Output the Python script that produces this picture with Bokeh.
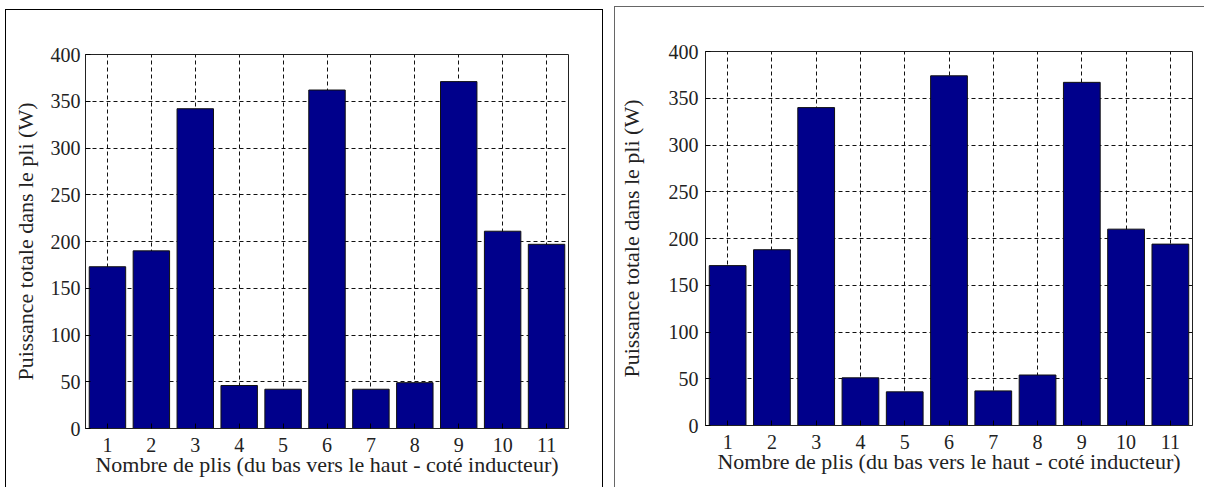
from bokeh.plotting import figure
from bokeh.layouts import row
from bokeh.models import Range1d
from bokeh.embed import file_html
from bokeh.resources import INLINE

plis = list(range(1, 12))
puissance_gauche = [173, 190, 342, 46, 42, 362, 42, 49, 371, 211, 197]
puissance_droite = [171, 188, 340, 51, 36, 374, 37, 54, 367, 210, 194]
y_ticks = list(range(0, 401, 50))
x_label = "Nombre de plis (du bas vers le haut - coté inducteur)"
y_label = "Puissance totale dans le pli (W)"

FONT = "'Liberation Serif', 'Times New Roman', serif"


def make(values, width, height, ml, mt, mr, mb, border, margin, bw, ylab_standoff, ytick_standoff):
    p = figure(width=width, height=height, output_backend="svg", toolbar_location=None,
               x_range=Range1d(0.5, 11.5), y_range=Range1d(0, 400),
               min_border_left=ml, min_border_top=mt, min_border_right=mr, min_border_bottom=mb,
               styles=border, margin=margin)
    p.vbar(x=plis, top=values, width=bw, fill_color="#00008B", line_color="#111111", line_width=1)
    p.xaxis.ticker = plis
    p.yaxis.ticker = y_ticks
    for ax in (p.xaxis[0], p.yaxis[0]):
        ax.major_tick_in = 5
        ax.major_tick_out = 0
        ax.minor_tick_line_color = None
        ax.axis_line_color = "#222222"
        ax.major_label_text_font = FONT
        ax.major_label_text_font_size = "20px"
        ax.major_label_text_color = "#222222"
        ax.axis_label_text_font = FONT
        ax.axis_label_text_font_size = "22px"
        ax.axis_label_text_font_style = "normal"
        ax.axis_label_text_color = "#222222"
    p.xaxis.axis_label = x_label
    p.yaxis.axis_label = y_label
    p.xaxis.major_label_standoff = 9
    p.xaxis.axis_label_standoff = -3
    p.yaxis.major_label_standoff = ytick_standoff
    p.yaxis.axis_label_standoff = ylab_standoff
    p.grid.grid_line_color = "#111111"
    p.grid.grid_line_dash = "4 3"
    p.grid.grid_line_width = 1
    p.outline_line_color = "#222222"
    p.outline_line_width = 1
    p.background_fill_color = "white"
    p.border_fill_color = "white"
    return p


p1 = make(puissance_gauche, 598, 490, 79, 43, 36, 69,
          {"border": "1px solid #000000", "border-bottom": "none"}, (9, 0, 0, 5), 0.83, 10, 5)
p2 = make(puissance_droite, 590, 487, 84, 44, 13, 69,
          {"border": "1px solid #666666", "border-right": "none", "border-bottom": "none"}, (6, 0, 0, 0), 0.83, 22, 7)

layout = row(p1, p2, spacing=11, height=487, styles={"overflow": "hidden"})
open("out.html", "w").write(file_html(layout, INLINE))
